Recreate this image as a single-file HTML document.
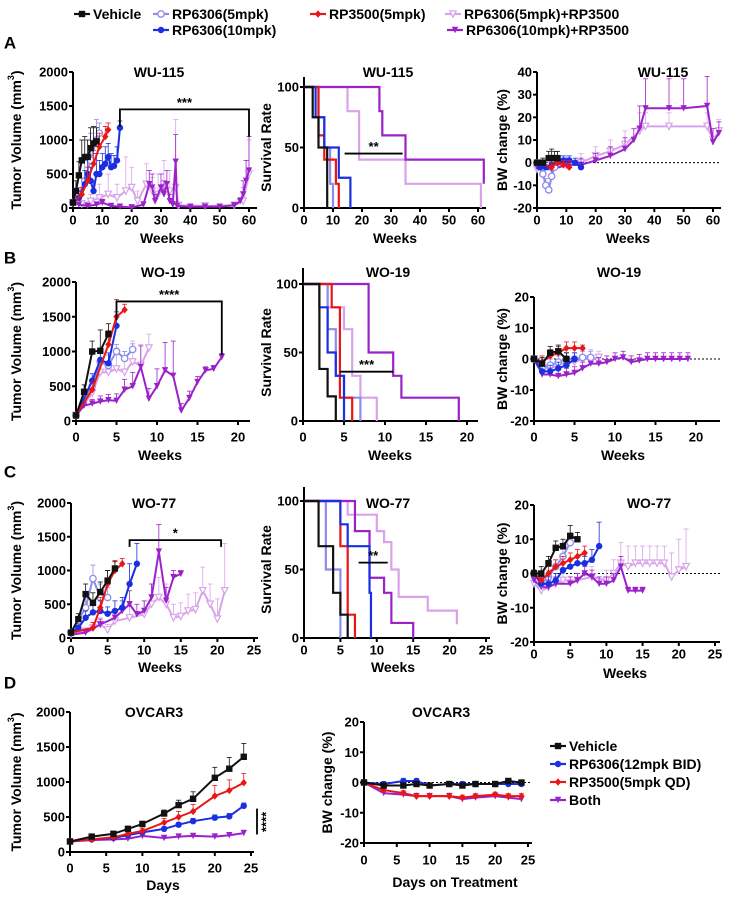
<!DOCTYPE html>
<html><head><meta charset="utf-8"><style>
html,body{margin:0;padding:0;background:#fff;width:736px;height:900px;overflow:hidden}
svg{display:block;font-family:"Liberation Sans",Arial,sans-serif;font-weight:bold}
</style></head><body>
<svg id="fig" width="736" height="900" viewBox="0 0 736 900"></svg>
<script>
// ===== DATA =====
const aTumVeh=[[0,80,20],[1,250,150],[2,480,200],[3,700,300],[4,750,300],[5,750,250],[6,880,300],[7,950,250],[8,980,200]];
const aTumL=[[0,80,20],[2,200,100],[4,400,300],[6,700,400],[8,1000,300],[9,1100,150]];
const aTumB=[[0,80,20],[2,150,100],[4,350,200],[5,500,250],[6,400,200],[7,250,150],[8,500,300],[9,500,200],[10,600,200],[11,650,250],[12,750,200],[13,600,200],[14,620,150],[15,700,200],[16,1180,100]];
const aTumR=[[0,80,20],[3,200,100],[5,400,200],[7,650,200],[9,900,200],[11,1050,150],[12,1150,100]];
const aTumP1=[[0,80,20],[3,60,50],[6,100,100],[9,150,200],[12,200,300],[15,150,200],[18,250,500],[20,300,300],[22,100,150],[25,350,300],[27,250,200],[29,200,300],[31,300,400],[33,250,300],[35,300,1000],[36,40,30],[45,30,20],[55,40,30],[58,100,200],[60,500,500]];
const aTumP2=[[0,80,20],[2,50,30],[5,30,30],[8,50,40],[10,80,50],[13,30,20],[16,20,20],[20,10,20],[24,50,40],[26,350,200],[27,300,200],[28,100,100],[30,300,200],[31,200,200],[32,350,200],[33,100,100],[34,50,50],[35,680,400],[35.5,30,20],[40,20,10],[45,20,10],[50,20,10],[55,40,20],[57,100,50],[58,200,200],[59,400,300],[60,550,500]];
const aSig=[16,60,1450,1200,1050];
const aSurvVeh=[[0,100],[3,75],[5,50],[8,0]];
const aSurvL=[[0,100],[5,75],[7,50],[9,20],[10,0]];
const aSurvR=[[0,100],[5,60],[7,40],[11,20],[12,0]];
const aSurvB=[[0,100],[4,75],[7,50],[12,25],[16,0]];
const aSurvP1=[[0,100],[13,100],[15,80],[19,40],[35,20],[61,0]];
const aSurvP2=[[0,100],[26,80],[27,60],[35,40],[62,20]];
const aSurvSig=[14,34,45];
const aBwVeh=[[0,0,1],[2,0,2],[4,2,3],[5,2,4],[6,2,3],[7,2,3]];
const aBwL=[[0,0,1],[2,-5,3],[3,-10,3],[4,-12,3],[5,-6,3],[6,-2,3]];
const aBwB=[[0,0,1],[1,-2,2],[3,-2,2],[5,-1,2],[7,0,2],[9,1,2],[11,1,2],[13,0,2],[15,-2,2]];
const aBwR=[[0,0,1],[5,-2,2],[7,0,2],[9,-1,2],[11,-2,3]];
const aBwP1=[[0,-3,4],[5,-3,4],[10,-1,4],[15,0,4],[20,3,4],[25,5,5],[30,8,6],[35,14,8],[37,16,6],[45,16,6],[58,16,6],[60,10,5],[62,14,5]];
const aBwP2=[[0,-2,3],[5,-3,3],[10,-1,3],[15,-1,3],[20,1,3],[25,3,4],[30,6,5],[33,10,5],[35,15,10],[37,24,13],[45,24,13],[50,24,13],[58,25,13],[60,9,6],[62,13,5]];
const bTumVeh=[[0,80,20],[1,420,100],[2,1000,150],[3,1010,300],[4,1250,150]];
const bTumL=[[0,80,20],[2,500,100],[3,850,150],[4,800,150],[5,1000,100],[6,900,100],[7,1030,80]];
const bTumB=[[0,80,20],[2,580,100],[3,880,150],[4,830,150],[5,1370,200]];
const bTumR=[[0,80,20],[2,450,100],[4,1100,200],[5,1500,250],[6,1600,80]];
const bTumP1=[[0,80,20],[2,400,100],[3,700,200],[4,700,250],[5,750,300],[6,700,300],[7,850,300],[8,800,300],[9,1050,200]];
const bTumP2=[[0,80,20],[1,220,60],[2,250,60],[3,280,80],[4,300,80],[5,290,100],[6,450,150],[7,500,200],[8,780,300],[9,320,150],[10,500,250],[11,730,400],[12,650,500],[13,150,100],[14,330,100],[15,560,80],[16,730,50],[17,750,50],[18,920,50]];
const bSig=[5,18,1720,1450,950];
const bSurvVeh=[[0,100],[2,38],[3,18],[4,0]];
const bSurvL=[[0,100],[3,67],[4,33],[5,17],[7,0]];
const bSurvB=[[0,100],[2,83],[3,50],[4,33],[5,0]];
const bSurvR=[[0,100],[3.5,83],[4.5,17],[6,0]];
const bSurvP1=[[0,100],[3,83],[5,67],[6,33],[7,17],[9,0]];
const bSurvP2=[[0,100],[5,100],[8,50],[11,33],[12,17],[19,0]];
const bSurvSig=[4.5,11,36];
const bBwVeh=[[0,0,1],[1,-1.5,2],[2,2,2],[3,2.5,2],[4,0,2]];
const bBwL=[[0,0,1],[1,-3,2],[2,-2,2],[3,-1,2],[4,0,2],[5,0,2],[6,0.5,2],[7,0.5,2]];
const bBwB=[[0,0,1],[1,-4,2],[2,-4,2],[3,-3,2],[4,-2,2],[5,0,2]];
const bBwR=[[0,0,1],[1,-1,2],[2,1,2],[3,2,2],[4,3.5,2],[5,3.5,2],[6,3.5,1]];
const bBwP1=[[0,0,1],[1,-3,3],[2,-3,3],[3,-2,3],[4,-1,3],[5,-1,3],[6,0,3],[7,0,3],[8,0.5,2]];
const bBwP2=[[0,0,1],[1,-5,2],[2,-5,2],[3,-5.5,2],[4,-5,2],[5,-4.5,2],[6,-3,2],[7,-1.5,2],[8,-1.5,2],[9,-1,2],[10,0,2],[11,0.5,2],[12,-1,2],[13,-0.5,2],[14,0,2],[15,0,2],[16,0,2],[17,0,2],[18,0,2],[19,0,2]];
const cTumVeh=[[0,80,20],[1,280,80],[2,650,150],[3,520,150],[4,680,150],[5,850,150],[6,1030,100]];
const cTumL=[[0,80,20],[2,450,150],[3,880,200],[4,600,200],[5,600,150]];
const cTumR=[[0,80,20],[3,150,80],[4,450,150],[5,800,200],[6,1000,150],[7,1100,80]];
const cTumB=[[0,80,20],[1,150,60],[2,300,100],[3,380,100],[4,400,150],[5,360,100],[6,400,150],[7,450,150],[8,800,300],[9,1100,300]];
const cTumP1=[[0,50,20],[2,100,50],[3,150,80],[4,200,100],[5,120,80],[6,250,150],[8,300,200],[10,350,200],[11,500,300],[12,600,300],[13,500,300],[14,300,200],[15,320,200],[16,400,250],[17,420,250],[18,700,350],[19,500,300],[20,280,300],[21,700,700]];
const cTumP2=[[0,50,20],[2,80,40],[4,200,80],[6,300,100],[7,400,150],[8,500,200],[9,350,150],[10,400,150],[11,600,200],[12,1280,400],[13,550,200],[14,900,100],[15,950,50]];
const cSig=[8,20.5,1450,1350,1350];
const cSurvVeh=[[0,100],[2,67],[4,33],[5,17],[6,0]];
const cSurvL=[[0,100],[3,50],[5,0]];
const cSurvR=[[0,100],[5,67],[6,17],[7,0]];
const cSurvB=[[0,100],[4,100],[5,83],[6,67],[8,67],[9,33],[9.2,0]];
const cSurvP1=[[0,100],[5,100],[6,90],[10,78],[11,70],[12,50],[13,30],[17,20],[21,10]];
const cSurvP2=[[0,100],[6,100],[7,78],[9,44],[11,33],[12,11],[15,0]];
const cSurvSig=[7.5,11.5,55];
const cBwVeh=[[0,0,1],[1,0,2],[2,3,2],[3,7.5,2],[4,8,2],[5,11,3],[6,10,2]];
const cBwL=[[0,0,1],[1,-3,2],[2,-1,2],[3,2,2],[4,5,2],[5,9,2]];
const cBwR=[[0,0,1],[1,-2,2],[2,0,2],[3,2,2],[4,3,2],[5,4,2],[6,5,2],[7,6,2]];
const cBwB=[[0,0,1],[1,-3,2],[2,-3,2],[3,-2,2],[4,1,2],[5,2,2],[6,3,2],[7,3,2],[8,4,3],[9,8,7]];
const cBwP1=[[0,-3,2],[1,-5,2],[2,-4,2],[3,-3,2],[4,-2,2],[6,-2,2],[8,-1,3],[10,-2,3],[11,0,4],[12,3,6],[13,2,6],[14,3,5],[15,3,5],[16,3,5],[17,3,5],[18,3,5],[19,-1,7],[20,1,9],[21,2,11]];
const cBwP2=[[0,-2,2],[1,-4,2],[2,-4,2],[3,-3,2],[5,-3,2],[6,-2,2],[7,0,2],[8,-1,2],[9,-3,2],[10,-3,2],[11,-2,2],[12,2,3],[13,-5,1],[14,-5,1],[15,-5,1]];
const dDays=[0,3,6,8,10,13,15,17,20,22,24];
const dTumVeh=[150,220,260,330,400,550,670,760,1060,1190,1360];
const dTumVehErr=[20,30,30,40,40,50,70,100,150,160,190];
const dTumR=[150,180,210,260,300,420,500,580,800,880,990];
const dTumRErr=[20,20,30,30,40,60,80,100,150,150,130];
const dTumB=[150,180,200,240,280,330,390,440,490,510,660];
const dTumBErr=[20,20,20,30,30,30,30,40,40,40,40];
const dTumP=[150,170,180,190,230,200,220,230,220,240,270];
const dTumPErr=[20,20,20,20,30,20,30,30,40,40,40];
const dBwVeh=[0,-1,-1,-0.5,-1,-0.5,-1,-0.5,-0.5,0.5,0];
const dBwB=[0,-0.5,0.5,0.5,-1,-0.5,-0.5,-0.5,-0.5,-0.5,-0.5];
const dBwR=[0,-2.5,-3.5,-4.5,-4.5,-4.5,-5,-4.5,-4,-4.5,-4.5];
const dBwP=[0,-3.5,-4,-4.5,-4.5,-4.5,-5.5,-5,-4.5,-5,-5.5];
const legendTop=["Vehicle","RP6306(5mpk)","RP3500(5mpk)","RP6306(5mpk)+RP3500","RP6306(10mpk)","RP6306(10mpk)+RP3500"];
const legendD=["Vehicle","RP6306(12mpk BID)","RP3500(5mpk QD)","Both"];

// ===== DRAWING =====
const NS='http://www.w3.org/2000/svg';
const svg=document.getElementById('fig');
const C={V:'#111111',L:'#8c8cec',B:'#1a2fe0',R:'#ea1616',P1:'#d9a3ea',P2:'#9b22c9'};
function el(tag,attrs,parent,name){
  const e=document.createElementNS(NS,tag);
  for(const k in attrs)e.setAttribute(k,attrs[k]);
  
  
  (parent||svg).appendChild(e);return e;
}
function txt(s,x,y,size,parent,name,anchor,rot){
  const t=el('text',{x:x,y:y,'font-size':size,'text-anchor':anchor||'middle','dominant-baseline':'central',fill:'#000'},parent,name);
  if(rot)t.setAttribute('transform','rotate(-90 '+x+' '+y+')');
  t.textContent=s;return t;
}
function scale(d0,d1,p0,p1){return v=>p0+(v-d0)/(d1-d0)*(p1-p0);}
function panel(name,o){
  const g=el('g',{},svg,name);
  const sx=scale(o.xd[0],o.xd[1],o.x0,o.x1), sy=scale(o.yd[0],o.yd[1],o.y0,o.y1);
  const yb=sy(o.yd[0]);
  el('line',{x1:sx(o.xd[0]),y1:yb,x2:o.xend,y2:yb,stroke:'#000','stroke-width':2},g,'x-axis');
  el('line',{x1:o.x0,y1:yb,x2:o.x0,y2:o.ytop!==undefined?o.ytop:sy(o.yd[1]),stroke:'#000','stroke-width':2},g,'y-axis');
  o.xt.forEach(v=>{el('line',{x1:sx(v),y1:yb,x2:sx(v),y2:yb+4,stroke:'#000','stroke-width':2},g,'x-tick');
    txt(String(v),sx(v),o.xly,13,g,'x-tick-label');});
  o.yt.forEach(v=>{el('line',{x1:o.x0-4,y1:sy(v),x2:o.x0,y2:sy(v),stroke:'#000','stroke-width':2},g,'y-tick');
    txt(String(v),o.x0-5,sy(v),13,g,'y-tick-label','end');});
  txt(o.title,o.tx,o.ty,14,g,'chart-title');
  txt(o.xlab,o.xlx,o.xlabY,14,g,'x-axis-title');
  const yt=txt(o.ylab,o.ylx,(sy(o.yd[1])+yb)/2,14,g,'y-axis-title','middle',true);
  if(o.sup){yt.textContent='';yt.appendChild(document.createTextNode('Tumor Volume (mm'));
    const ts=document.createElementNS(NS,'tspan');ts.setAttribute('font-size','9');ts.setAttribute('dy','-5');ts.textContent='3';yt.appendChild(ts);
    const ts2=document.createElementNS(NS,'tspan');ts2.setAttribute('dy','5');ts2.textContent=')';yt.appendChild(ts2);}
  if(o.zero){el('line',{x1:sx(o.xd[0]),y1:sy(0),x2:o.xend,y2:sy(0),stroke:'#000','stroke-width':1,'stroke-dasharray':'2,2'},g,'zero-line');}
  return {g,sx,sy};
}
function marker(g,x,y,type,col,name){
  const r=3.2;
  if(type==='sq')el('rect',{x:x-r,y:y-r,width:2*r,height:2*r,fill:col},g,name);
  else if(type==='oc')el('circle',{cx:x,cy:y,r:r,fill:'#fff',stroke:col,'stroke-width':1.3},g,name);
  else if(type==='c')el('circle',{cx:x,cy:y,r:r,fill:col},g,name);
  else if(type==='d')el('polygon',{points:`${x},${y-r-0.5} ${x+r},${y} ${x},${y+r+0.5} ${x-r},${y}`,fill:col},g,name);
  else if(type==='tv')el('polygon',{points:`${x-r},${y-r} ${x+r},${y-r} ${x},${y+r}`,fill:'#fff',stroke:col,'stroke-width':1.2},g,name);
  else el('polygon',{points:`${x-r},${y-r} ${x+r},${y-r} ${x},${y+r}`,fill:col},g,name);
}
function series(P,name,pts,col,mk){
  const g=el('g',{},P.g,name);
  pts.forEach(p=>{if(p[2]){const x=P.sx(p[0]);
    el('line',{x1:x,y1:P.sy(p[1]),x2:x,y2:P.sy(p[1]+p[2]),stroke:col,'stroke-width':0.8},g,'error-bar');
    el('line',{x1:x-2.5,y1:P.sy(p[1]+p[2]),x2:x+2.5,y2:P.sy(p[1]+p[2]),stroke:col,'stroke-width':0.8},g,'error-cap');}});
  el('polyline',{points:pts.map(p=>P.sx(p[0])+','+P.sy(p[1])).join(' '),fill:'none',stroke:col,'stroke-width':2},g,'series-line');
  pts.forEach(p=>marker(g,P.sx(p[0]),P.sy(p[1]),mk,col,'data-point'));
}
function steps(P,name,pts,col){
  let d='M'+P.sx(pts[0][0])+','+P.sy(pts[0][1]);
  for(let i=1;i<pts.length;i++){d+=' H'+P.sx(pts[i][0])+' V'+P.sy(pts[i][1]);}
  el('path',{d:d,fill:'none',stroke:col,'stroke-width':2.2},P.g,name);
}
function sig(P,s,label){
  const [a,b,y,ya,yb]=s;
  el('path',{d:`M${P.sx(a)},${P.sy(ya)} V${P.sy(y)} H${P.sx(b)} V${P.sy(yb)}`,fill:'none',stroke:'#000','stroke-width':1.8},P.g,'significance-bracket');
  txt(label,(P.sx(a)+P.sx(b))/2,P.sy(y)-7,13,P.g,'significance-label');
}
function ssig(P,s,label){
  el('line',{x1:P.sx(s[0]),y1:P.sy(s[2]),x2:P.sx(s[1]),y2:P.sy(s[2]),stroke:'#000','stroke-width':1.8},P.g,'significance-line');
  txt(label,(P.sx(s[0])+P.sx(s[1]))/2,P.sy(s[2])-7,13,P.g,'significance-label');
}
function tumor6(P,d){series(P,'series-rp6306-5mpk-rp3500',d[4],C.P1,'tv');series(P,'series-rp6306-10mpk-rp3500',d[5],C.P2,'tf');
  series(P,'series-rp6306-5mpk',d[1],C.L,'oc');series(P,'series-rp6306-10mpk',d[2],C.B,'c');series(P,'series-rp3500',d[3],C.R,'d');series(P,'series-vehicle',d[0],C.V,'sq');}
function surv6(P,d){steps(P,'survival-rp6306-5mpk-rp3500',d[4],C.P1);steps(P,'survival-rp6306-10mpk-rp3500',d[5],C.P2);
  steps(P,'survival-rp6306-5mpk',d[1],C.L);steps(P,'survival-rp3500',d[3],C.R);steps(P,'survival-rp6306-10mpk',d[2],C.B);steps(P,'survival-vehicle',d[0],C.V);}

[['A',10,43],['B',10,258],['C',10,472],['D',10,683]].forEach(l=>txt(l[0],l[1],l[2],17,svg,'panel-letter-'+l[0].toLowerCase(),'middle'));

let P=panel('panel-a-tumor',{x0:73,x1:249,xd:[0,60],y0:208,y1:72,yd:[0,2000],xend:257,xt:[0,10,20,30,40,50,60],yt:[0,500,1000,1500,2000],xly:220,title:'WU-115',tx:159,ty:72,xlab:'Weeks',xlx:162,xlabY:238,ylab:'Tumor Volume (mm3)',ylx:16,sup:true});
tumor6(P,[aTumVeh,aTumL,aTumB,aTumR,aTumP1,aTumP2]);sig(P,aSig,'***');
P=panel('panel-a-survival',{x0:304,x1:478,xd:[0,60],y0:208,y1:87,yd:[0,100],xend:486,ytop:77,xt:[0,10,20,30,40,50,60],yt:[0,50,100],xly:220,title:'WU-115',tx:388,ty:72,xlab:'Weeks',xlx:395,xlabY:238,ylab:'Survival Rate',ylx:266});
surv6(P,[aSurvVeh,aSurvL,aSurvB,aSurvR,aSurvP1,aSurvP2]);ssig(P,aSurvSig,'**');
P=panel('panel-a-bw',{x0:537,x1:713,xd:[0,60],y0:208,y1:72,yd:[-20,40],xend:721,xt:[0,10,20,30,40,50,60],yt:[-20,-10,0,10,20,30,40],xly:220,title:'WU-115',tx:663,ty:72,xlab:'Weeks',xlx:628,xlabY:238,ylab:'BW change (%)',ylx:502,zero:true});
tumor6(P,[aBwVeh,aBwL,aBwB,aBwR,aBwP1,aBwP2]);

P=panel('panel-b-tumor',{x0:76,x1:238,xd:[0,20],y0:421,y1:282,yd:[0,2000],xend:250,xt:[0,5,10,15,20],yt:[0,500,1000,1500,2000],xly:437,title:'WO-19',tx:163,ty:272,xlab:'Weeks',xlx:160,xlabY:455,ylab:'Tumor Volume (mm3)',ylx:16,sup:true});
tumor6(P,[bTumVeh,bTumL,bTumB,bTumR,bTumP1,bTumP2]);sig(P,bSig,'****');
P=panel('panel-b-survival',{x0:303,x1:467,xd:[0,20],y0:421,y1:284,yd:[0,100],xend:478,ytop:268,xt:[0,5,10,15,20],yt:[0,50,100],xly:437,title:'WO-19',tx:388,ty:272,xlab:'Weeks',xlx:390,xlabY:455,ylab:'Survival Rate',ylx:266});
surv6(P,[bSurvVeh,bSurvL,bSurvB,bSurvR,bSurvP1,bSurvP2]);ssig(P,bSurvSig,'***');
P=panel('panel-b-bw',{x0:534,x1:696,xd:[0,20],y0:421,y1:297,yd:[-20,20],xend:720,xt:[0,5,10,15,20],yt:[-20,-10,0,10,20],xly:437,title:'WO-19',tx:619,ty:272,xlab:'Weeks',xlx:623,xlabY:455,ylab:'BW change (%)',ylx:502,zero:true});
tumor6(P,[bBwVeh,bBwL,bBwB,bBwR,bBwP1,bBwP2]);

P=panel('panel-c-tumor',{x0:71,x1:254,xd:[0,25],y0:638,y1:503,yd:[0,2000],xend:258,xt:[0,5,10,15,20,25],yt:[0,500,1000,1500,2000],xly:650,title:'WO-77',tx:154,ty:503,xlab:'Weeks',xlx:160,xlabY:667,ylab:'Tumor Volume (mm3)',ylx:16,sup:true});
tumor6(P,[cTumVeh,cTumL,cTumB,cTumR,cTumP1,cTumP2]);sig(P,cSig,'*');
P=panel('panel-c-survival',{x0:304,x1:486,xd:[0,25],y0:638,y1:501,yd:[0,100],xend:490,ytop:487,xt:[0,5,10,15,20,25],yt:[0,50,100],xly:650,title:'WO-77',tx:388,ty:503,xlab:'Weeks',xlx:393,xlabY:667,ylab:'Survival Rate',ylx:266});
surv6(P,[cSurvVeh,cSurvL,cSurvB,cSurvR,cSurvP1,cSurvP2]);ssig(P,cSurvSig,'**');
P=panel('panel-c-bw',{x0:534,x1:715,xd:[0,25],y0:642,y1:505,yd:[-20,20],xend:720,xt:[0,5,10,15,20,25],yt:[-20,-10,0,10,20],xly:654,title:'WO-77',tx:649,ty:503,xlab:'Weeks',xlx:625,xlabY:673,ylab:'BW change (%)',ylx:502,zero:true});
tumor6(P,[cBwVeh,cBwL,cBwB,cBwR,cBwP1,cBwP2]);

function zipD(vals,errs){return dDays.map((d,i)=>[d,vals[i],errs?errs[i]:0.8]);}
P=panel('panel-d-tumor',{x0:70,x1:251,xd:[0,25],y0:852,y1:712,yd:[0,2000],xend:254,xt:[0,5,10,15,20,25],yt:[0,500,1000,1500,2000],xly:868,title:'OVCAR3',tx:154,ty:712,xlab:'Days',xlx:163,xlabY:885,ylab:'Tumor Volume (mm3)',ylx:16,sup:true});
series(P,'series-both',zipD(dTumP,dTumPErr),C.P2,'tf');series(P,'series-rp6306-12mpk',zipD(dTumB,dTumBErr),C.B,'c');
series(P,'series-rp3500-5mpk',zipD(dTumR,dTumRErr),C.R,'d');series(P,'series-vehicle',zipD(dTumVeh,dTumVehErr),C.V,'sq');
el('line',{x1:257,y1:P.sy(620),x2:257,y2:P.sy(250),stroke:'#000','stroke-width':1.8},P.g,'significance-line');
txt('****',266,P.sy(430),13,P.g,'significance-label','middle',true);
P=panel('panel-d-bw',{x0:364,x1:528,xd:[0,25],y0:843,y1:722,yd:[-20,20],xend:532,xt:[0,5,10,15,20,25],yt:[-20,-10,0,10,20],xly:860,title:'OVCAR3',tx:441,ty:712,xlab:'Days on Treatment',xlx:455,xlabY:882,ylab:'BW change (%)',ylx:327,zero:true});
series(P,'series-both',zipD(dBwP),C.P2,'tf');series(P,'series-rp3500-5mpk',zipD(dBwR),C.R,'d');
series(P,'series-rp6306-12mpk',zipD(dBwB),C.B,'c');series(P,'series-vehicle',zipD(dBwVeh),C.V,'sq');

function legItem(parent,label,x,y,col,mk,name){
  const g=el('g',{},parent,name);
  el('line',{x1:x-8,y1:y,x2:x+8,y2:y,stroke:col,'stroke-width':2.2},g,'legend-line');
  marker(g,x,y,mk,col,'legend-marker');
  txt(label,x+11,y,14,g,'legend-label','start');
}
const LT=el('g',{},svg,'top-legend');
const topPos=[[82,14,C.V,'sq'],[161,14,C.L,'oc'],[318,14,C.R,'d'],[453,14,C.P1,'tv'],[161,30,C.B,'c'],[455,30,C.P2,'tf']];
legendTop.forEach((s,i)=>legItem(LT,s,topPos[i][0],topPos[i][1],topPos[i][2],topPos[i][3],'legend-entry'));
const LD=el('g',{},svg,'panel-d-legend');
const dCols=[[C.V,'sq'],[C.B,'c'],[C.R,'d'],[C.P2,'tf']];
legendD.forEach((s,i)=>legItem(LD,s,558,746+i*18,dCols[i][0],dCols[i][1],'legend-entry'));
</script>
</body></html>
